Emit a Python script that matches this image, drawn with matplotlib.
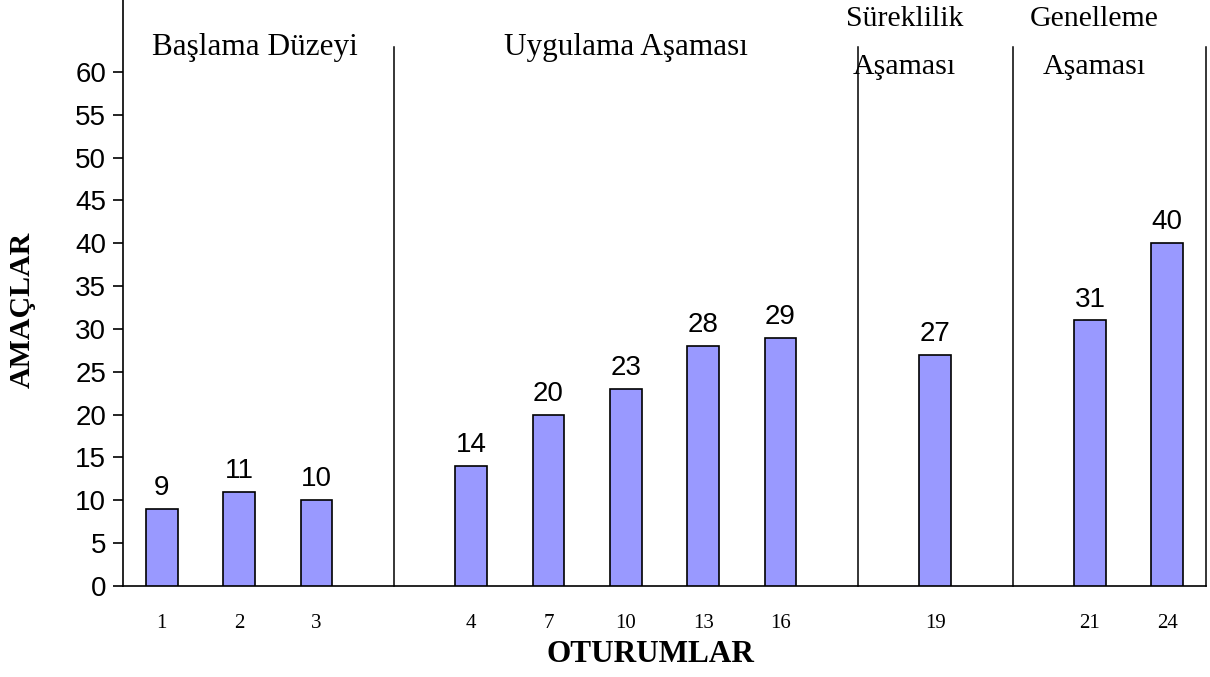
import matplotlib.pyplot as plt

# Oturum numaraları ve amaç sayıları
sessions = ['1', '2', '3', '4', '7', '10', '13', '16', '19', '21', '24']
goals = [9, 11, 10, 14, 20, 23, 28, 29, 27, 31, 40]
# slot index of each bar along the x axis (gaps between phases)
slots = [0, 1, 2, 4, 5, 6, 7, 8, 10, 12, 13]

phase_lines = [3, 9, 11, 13.5]
phase_labels = ['Başlama Düzeyi', 'Uygulama Aşaması', 'Süreklilik\nAşaması', 'Genelleme\nAşaması']
phase_x = [1.2, 6.0, 9.6, 12.05]

serif = 'Liberation Serif'
sans = 'Liberation Sans'

fig = plt.figure(figsize=(12.1, 6.77), dpi=100)
ax = fig.add_axes([123 / 1210, 91 / 677, 1083 / 1210, 586 / 677])

ax.bar(slots, goals, width=0.41, color='#9999FF', edgecolor='black', linewidth=1.2, zorder=3)

# value labels above bars
for x, v in zip(slots, goals):
    ax.annotate(str(v), (x, v), textcoords='offset points', xytext=(0, 10),
                ha='center', va='baseline', fontsize=20, family=sans)

# phase separator lines
for lx in phase_lines:
    ax.plot([lx, lx], [0, 62.9], color='black', linewidth=1.1, clip_on=False)

# phase titles
ax.text(phase_x[0], 62.8, phase_labels[0], ha='center', va='center', fontsize=22.5, family=serif)
ax.text(phase_x[1], 62.8, phase_labels[1], ha='center', va='center', fontsize=22.5, family=serif)
ax.text(phase_x[2], 63.4, phase_labels[2], ha='center', va='center', fontsize=21.5, family=serif, linespacing=2.1)
ax.text(phase_x[3], 63.4, phase_labels[3], ha='center', va='center', fontsize=21.5, family=serif, linespacing=2.1)

ax.set_xlim(-0.5, 13.5)
ax.set_ylim(0, 68.4)
ax.set_yticks(range(0, 61, 5))
ax.set_yticklabels([str(t) for t in range(0, 61, 5)], fontsize=20, family=sans)
ax.set_xticks(slots)
ax.set_xticklabels(sessions, fontsize=15, family=serif)
ax.tick_params(axis='x', length=0, pad=20)
ax.tick_params(axis='y', direction='out', length=7, width=1.2, pad=5)

ax.spines['top'].set_visible(False)
ax.spines['right'].set_visible(False)
ax.spines['left'].set_linewidth(1.2)
ax.spines['bottom'].set_linewidth(1.2)

fig.text(650 / 1210, 1 - 655 / 677, 'OTURUMLAR', ha='center', va='center',
         fontsize=22.5, fontweight='bold', family=serif)
fig.text(22 / 1210, 1 - 310 / 677, 'AMAÇLAR', ha='center', va='center', rotation=90,
         fontsize=21.5, fontweight='bold', family=serif)

fig.savefig('out.png', dpi=100)
